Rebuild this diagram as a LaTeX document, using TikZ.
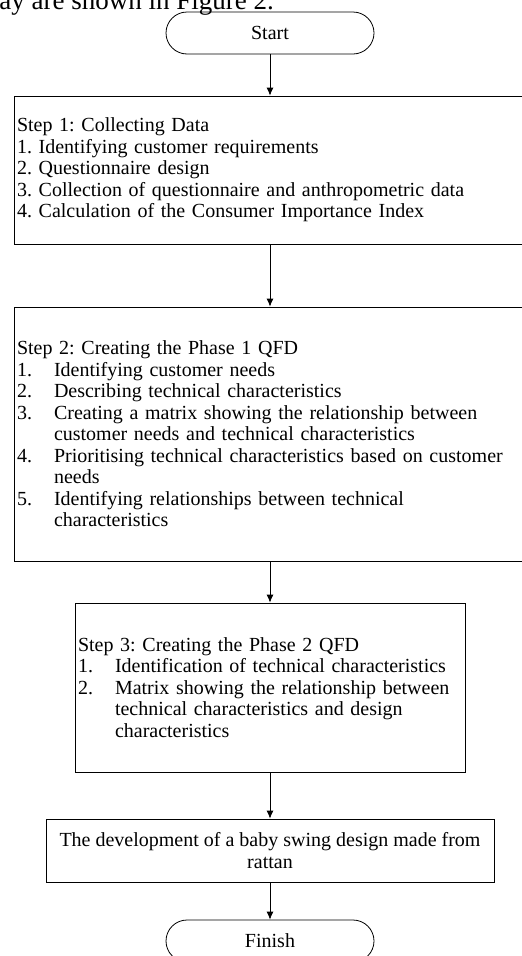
\documentclass[tikz,border=0pt]{standalone}
\usepackage{fontspec}
\setmainfont{Liberation Serif}
\usepackage{tikz}
\usetikzlibrary{calc,shapes,arrows.meta}

\newcommand{\nm}[1]{\makebox[37pt][l]{#1}}
\tikzset{
    terminal/.style={draw, rounded corners=21pt, minimum width=208pt, minimum height=42pt, inner sep=0pt},
    stepbox/.style={draw, align=left, inner xsep=3pt, inner ysep=0pt},
    flow/.style={-{Latex[length=8pt,width=7pt]}, line width=0.8pt}
}

\begin{document}
\frenchspacing
\begin{tikzpicture}[x=1pt,y=-1pt,line width=0.8pt,font=\fontsize{20}{21.5}\selectfont]
        \useasboundingbox (0,0) rectangle (522,956);
        % running text of the page above the figure
        \node[anchor=base west,inner sep=0pt,font=\fontsize{27}{30}\selectfont] (para) at (-1,9) {ay are shown in Figure 2.};

        \node[terminal] (start) at (270,33) {Start};
        \node[stepbox, minimum width=512pt, minimum height=148pt, text width=506pt] (collect) at (270,170)
            {Step 1: Collecting Data\\
             1. Identifying customer requirements\\
             2. Questionnaire design\\
             3. Collection of questionnaire and anthropometric data\\
             4. Calculation of the Consumer Importance Index};
        \node[stepbox, minimum width=512pt, minimum height=254pt, text width=506pt] (phaseone) at (270,434)
            {Step 2: Creating the Phase 1 QFD\\
             \nm{1.}Identifying customer needs\\
             \nm{2.}Describing technical characteristics\\
             \nm{3.}Creating a matrix showing the relationship between\\
             \nm{}customer needs and technical characteristics\\
             \nm{4.}Prioritising technical characteristics based on customer\\
             \nm{}needs\\
             \nm{5.}Identifying relationships between technical\\
             \nm{}characteristics};
        \node[stepbox, minimum width=390pt, minimum height=169pt, text width=384pt] (phasetwo) at (270,687.5)
            {Step 3: Creating the Phase 2 QFD\\
             \nm{1.}Identification of technical characteristics\\
             \nm{2.}Matrix showing the relationship between\\
             \nm{}technical characteristics and design\\
             \nm{}characteristics};
        \node[draw, align=center, minimum width=448pt, minimum height=63pt, inner sep=0pt] (develop) at (270,850.5)
            {The development of a baby swing design made from\\ rattan};
        \node[terminal] (finish) at (270,941) {Finish};

        \draw[flow] (start) -- (collect);
        \draw[flow] (collect) -- (phaseone);
        \draw[flow] (phaseone) -- (phasetwo);
        \draw[flow] (phasetwo) -- (develop);
        \draw[flow] (develop) -- (finish);
    \end{tikzpicture}
\end{document}
